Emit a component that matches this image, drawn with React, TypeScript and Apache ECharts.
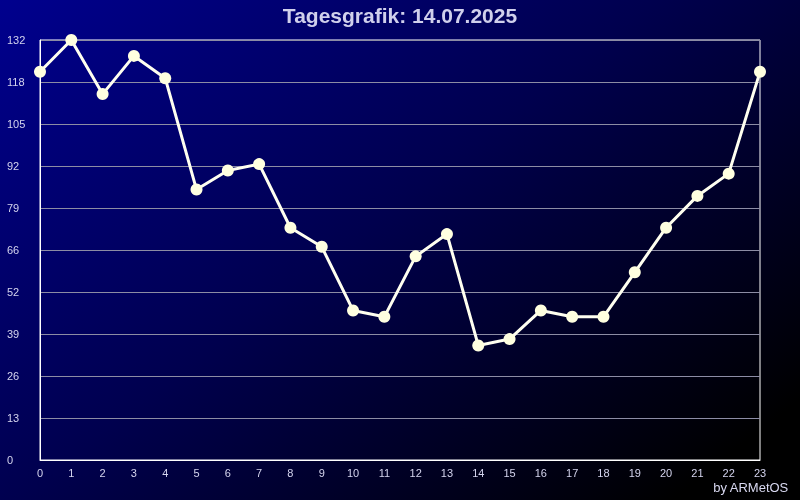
import React, { useEffect, useRef } from "react";
import * as echarts from "echarts";

const hours = ["0","1","2","3","4","5","6","7","8","9","10","11","12","13","14","15","16","17","18","19","20","21","22","23"];
const values = [122, 132, 115, 127, 120, 85, 91, 93, 73, 67, 47, 45, 64, 71, 36, 38, 47, 45, 45, 59, 73, 83, 90, 122];
const yMax = 132;
const yStep = 13.2;
const titleText = "Tagesgrafik: 14.07.2025";
const creditText = "by ARMetOS";

export default function App() {
  const ref = useRef<HTMLDivElement>(null);
  useEffect(() => {
    if (!ref.current) return;
    const chart = echarts.init(ref.current, undefined, { renderer: "svg" });
    const labelColor = "#d4d4ee";
    chart.setOption({
      animation: false,
      backgroundColor: "transparent",
      graphic: [
        {
          type: "rect",
          z: -100,
          silent: true,
          shape: { x: 0, y: 0, width: 800, height: 500 },
          style: {
            fill: new echarts.graphic.LinearGradient(0, 0, 1, 0.8, [
              { offset: 0, color: "#00008e" },
              { offset: 0.5, color: "#00004e" },
              { offset: 1, color: "#000000" },
            ]),
          },
        },
        {
          type: "text",
          left: "center",
          top: 5,
          style: {
            text: titleText,
            fill: "#d0d0ec",
            font: "bold 21px 'Liberation Sans', Arial, sans-serif",
          },
        },
        {
          type: "text",
          right: 11,
          top: 481,
          style: {
            text: creditText,
            fill: "#d8d8f0",
            font: "13px 'Liberation Sans', Arial, sans-serif",
          },
        },
      ],
      grid: {
        left: 40,
        right: 40,
        top: 40,
        bottom: 40,
        show: true,
        borderColor: "#ffffff",
        borderWidth: 1,
        backgroundColor: "transparent",
      },
      xAxis: {
        type: "category",
        data: hours,
        boundaryGap: false,
        axisLine: { show: true, lineStyle: { color: "#ffffff", width: 1 } },
        axisTick: { show: false },
        axisLabel: {
          color: labelColor,
          fontSize: 11,
          fontFamily: "'Liberation Sans', Arial, sans-serif",
          margin: 7,
          interval: 0,
        },
        splitLine: { show: false },
      },
      yAxis: {
        type: "value",
        min: 0,
        max: yMax,
        interval: yStep,
        axisLine: { show: true, lineStyle: { color: "#ffffff", width: 1 } },
        axisTick: { show: false },
        axisLabel: {
          color: labelColor,
          fontSize: 11,
          fontFamily: "'Liberation Sans', Arial, sans-serif",
          align: "left",
          margin: 33,
          formatter: (v: number) => String(Math.floor(v + 1e-6)),
        },
        splitLine: { show: true, lineStyle: { color: "#8c8ca4", width: 1 } },
      },
      series: [
        {
          type: "line",
          data: values,
          symbol: "circle",
          symbolSize: 12,
          showSymbol: true,
          lineStyle: { color: "#fffff0", width: 3 },
          itemStyle: { color: "#ffffe0", borderWidth: 0 },
          z: 5,
        },
      ],
    });
    return () => chart.dispose();
  }, []);
  return (
    <div
      ref={ref}
      style={{ position: "fixed", left: 0, top: 0, width: 800, height: 500 }}
    />
  );
}
